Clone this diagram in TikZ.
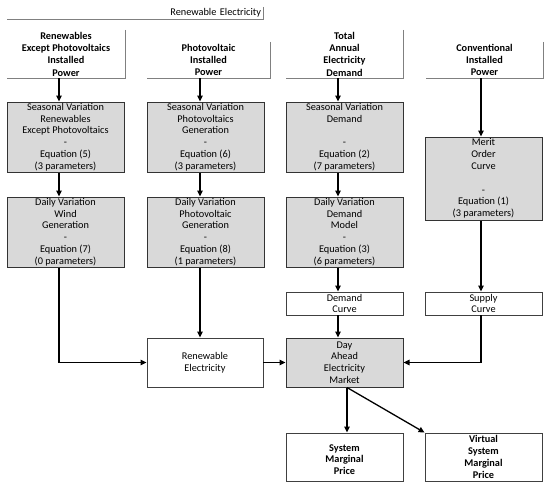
\documentclass[tikz,border=0pt]{standalone}
\usepackage{fontspec}
\setmainfont{Carlito}
\usetikzlibrary{arrows.meta}
\tikzset{
  base/.style={inner sep=0pt, align=center, font=\fontsize{10.3}{11.8}\selectfont},
  topbox/.style={base, font=\fontsize{10.3}{12.3}\selectfont\bfseries, minimum width=117pt},
  openline/.style={draw=black!50, line width=0.9pt},
  gbox/.style={base, draw=black!80, fill=black!15, line width=1pt, minimum width=117pt},
  wbox/.style={base, draw=black!75, fill=white, line width=0.9pt, minimum width=117pt},
  arr/.style={draw=black, line width=1.3pt, -{Triangle[length=6pt,width=5.5pt]}}
}
\begin{document}
\begin{tikzpicture}[x=1pt,y=-1pt]
\useasboundingbox (0,0) rectangle (550,488);
% column coordinates
\coordinate (c1) at (59,0);
\coordinate (c2) at (200,0);
\coordinate (c3) at (338,0);
\coordinate (c4) at (481,0);
\coordinate (c5) at (347,0);

% top label
\node[base, minimum width=256pt, minimum height=12pt, text width=252pt, align=right] (rel) at (135,13) {Renewable Electricity};
\draw[openline] (rel.north east) -- (rel.south east) -- (rel.south west);

% top boxes
\node[topbox, minimum width=118pt, minimum height=48pt] (top1) at (66,54) {Renewables\\Except Photovoltaics\\Installed\\Power};
\node[topbox, minimum width=123pt, minimum height=36pt] (top2) at (208.5,60) {Photovoltaic\\Installed\\Power};
\node[topbox, minimum height=48pt] (top3) at (344.5,54) {Total\\Annual\\Electricity\\Demand};
\node[topbox, minimum height=36pt] (top4) at (484.5,60) {Conventional\\Installed\\Power};
\foreach \n in {top1,top2,top3,top4}
  \draw[openline] (\n.north east) -- (\n.south east) -- (\n.south west);

% gray boxes
\node[gbox, minimum height=70pt] (s1) at (65.5,137) {Seasonal Variation\\Renewables\\Except Photovoltaics\\-\\Equation (5)\\(3 parameters)};
\node[gbox, minimum height=70pt] (s2) at (205.5,137) {Seasonal Variation\\Photovoltaics\\Generation\\-\\Equation (6)\\(3 parameters)};
\node[gbox, minimum height=70pt] (s3) at (344.5,137) {Seasonal Variation\\Demand\\\mbox{}\\-\\Equation (2)\\(7 parameters)};
\node[gbox, minimum height=70pt] (d1) at (65.5,232) {Daily Variation\\Wind\\Generation\\-\\Equation (7)\\(0 parameters)};
\node[gbox, minimum height=70pt] (d2) at (205.5,232) {Daily Variation\\Photovoltaic\\Generation\\-\\Equation (8)\\(1 parameters)};
\node[gbox, minimum height=70pt] (d3) at (344.5,232) {Daily Variation\\Demand\\Model\\-\\Equation (3)\\(6 parameters)};
\node[gbox, minimum height=83pt] (merit) at (483.5,178.5) {Merit\\Order\\Curve\\\mbox{}\\-\\Equation (1)\\(3 parameters)};

% white boxes
\node[wbox, minimum height=23pt] (dc) at (344.5,303.5) {Demand\\Curve};
\node[wbox, minimum height=23pt] (sc) at (483.5,303.5) {Supply\\Curve};
\node[wbox, minimum width=116pt, minimum height=49pt] (re) at (205,362.5) {Renewable\\Electricity};
\node[gbox, minimum height=49pt] (dam) at (344.5,362.5) {Day\\Ahead\\Electricity\\Market};
\node[wbox, minimum height=48pt, font=\fontsize{10.3}{11.8}\selectfont\bfseries] (smp) at (344.5,457) {\mbox{}\\System\\Marginal\\Price};
\node[wbox, minimum height=48pt, font=\fontsize{10.3}{11.8}\selectfont\bfseries] (vsmp) at (483.5,457) {Virtual\\System\\Marginal\\Price};

% arrows
\draw[arr] (top1.south -| c1) -- (s1.north -| c1);
\draw[arr] (s1.south -| c1) -- (d1.north -| c1);
\draw[arr] (d1.south -| c1) |- (re.west);
\draw[arr] (top2.south -| c2) -- (s2.north -| c2);
\draw[arr] (s2.south -| c2) -- (d2.north -| c2);
\draw[arr] (d2.south -| c2) -- (re.north -| c2);
\draw[arr] (top3.south -| c3) -- (s3.north -| c3);
\draw[arr] (s3.south -| c3) -- (d3.north -| c3);
\draw[arr] (d3.south -| c3) -- (dc.north -| c3);
\draw[arr] (dc.south -| c3) -- (dam.north -| c3);
\draw[arr] (top4.south -| c4) -- (merit.north -| c4);
\draw[arr] (merit.south -| c4) -- (sc.north -| c4);
\draw[arr] (sc.south -| c4) |- (dam.east);
\draw[arr] (re.east) -- (dam.west);
\draw[arr] (dam.south -| c5) -- (smp.north -| c5);
\draw[arr] (dam.south -| c5) -- (vsmp.north west);
\end{tikzpicture}
\end{document}
